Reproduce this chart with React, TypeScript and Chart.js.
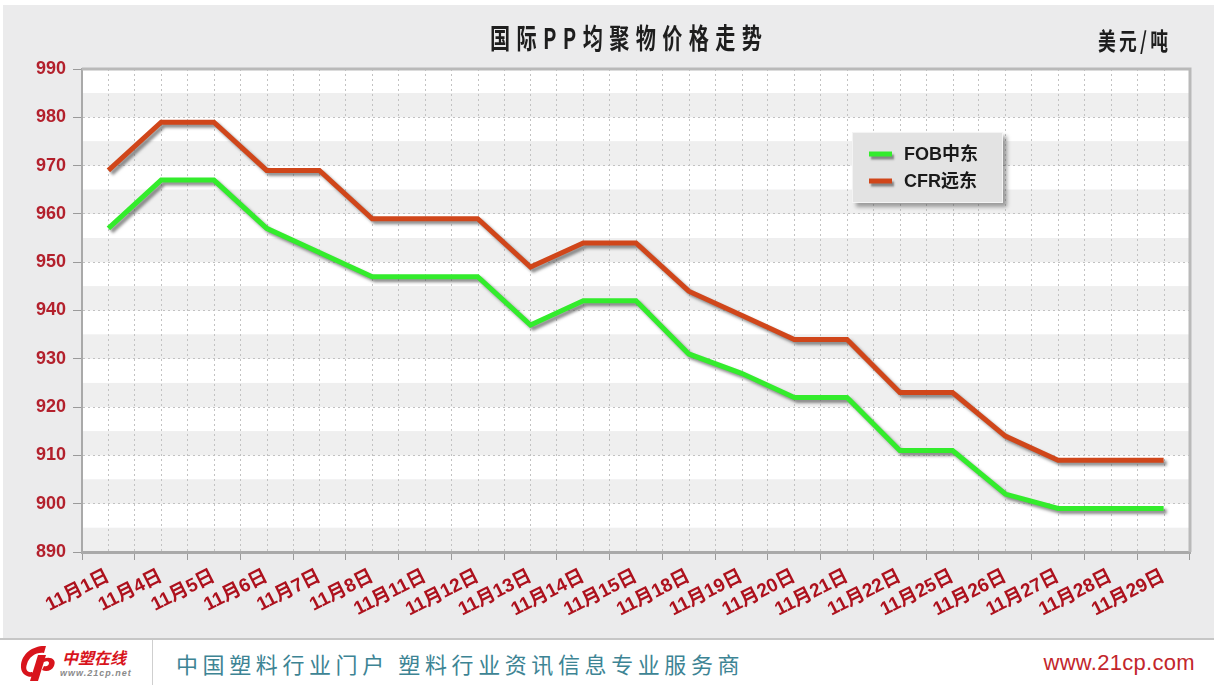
import React, { useEffect, useRef } from "react";
import { Chart, registerables } from "chart.js";

Chart.register(...registerables);

const categories = ["11月1日", "11月4日", "11月5日", "11月6日", "11月7日", "11月8日", "11月11日", "11月12日", "11月13日", "11月14日", "11月15日", "11月18日", "11月19日", "11月20日", "11月21日", "11月22日", "11月25日", "11月26日", "11月27日", "11月28日", "11月29日"];
const fobMiddleEast = [957, 967, 967, 957, 952, 947, 947, 947, 937, 942, 942, 931, 927, 922, 922, 911, 911, 902, 899, 899, 899];
const cfrFarEast = [969, 979, 979, 969, 969, 959, 959, 959, 949, 954, 954, 944, 939, 934, 934, 923, 923, 914, 909, 909, 909];
const seriesNames = ["FOB中东", "CFR远东"];
const seriesColors = ["#33ec2c", "#d0461a"];
const yMin = 890;
const yMax = 990;
const yStep = 5;
const titleText = "国际PP均聚物价格走势";
const unitText = "美元/吨";
const footerSlogan = "中国塑料行业门户 塑料行业资讯信息专业服务商";
const footerSite = "www.21cp.com";

const LATIN = '"Liberation Sans", Arial, "Noto Sans CJK SC", sans-serif';
const CJK = '"Noto Sans CJK SC", "Liberation Sans", sans-serif';

function drawSpaced(ctx: CanvasRenderingContext2D, text: string, left: number, width: number, yMid: number, font: string, scaleX: number, color: string) {
  ctx.save();
  ctx.font = font;
  ctx.fillStyle = color;
  ctx.textBaseline = "middle";
  ctx.textAlign = "left";
  const chars = Array.from(text);
  const ws = chars.map((c) => ctx.measureText(c).width * scaleX);
  const total = ws.reduce((s, w) => s + w, 0);
  const gap = chars.length > 1 ? (width - total) / (chars.length - 1) : 0;
  let x = left;
  chars.forEach((c, i) => {
    ctx.save();
    ctx.translate(x, yMid);
    ctx.scale(scaleX, 1);
    ctx.fillText(c, 0, 0);
    ctx.restore();
    x += ws[i] + gap;
  });
  ctx.restore();
}

const decorPlugin = {
  id: "decor",
  beforeDraw(chart: any) {
    const { ctx, chartArea: a, scales } = chart;
    ctx.save();
    ctx.fillStyle = "#ffffff";
    ctx.fillRect(0, 0, chart.width, chart.height);
    ctx.fillStyle = "#ebebec";
    ctx.fillRect(3, 5, chart.width - 3, chart.height - 5);
    const y = scales.y;
    let idx = 0;
    for (let v = yMax; v > yMin; v -= yStep, idx++) {
      const top = y.getPixelForValue(v);
      const bot = y.getPixelForValue(v - yStep);
      ctx.fillStyle = idx % 2 === 0 ? "#ffffff" : "#efefef";
      ctx.fillRect(a.left, top, a.right - a.left, bot - top);
    }
    const x = scales.x;
    ctx.strokeStyle = "#c2c2c2";
    ctx.lineWidth = 1;
    ctx.setLineDash([2, 3]);
    categories.forEach((_, i) => {
      const px = Math.round(x.getPixelForValue(i)) + 0.5;
      ctx.beginPath();
      ctx.moveTo(px, a.top);
      ctx.lineTo(px, a.bottom);
      ctx.stroke();
    });
    ctx.restore();
  },
  beforeDatasetsDraw(chart: any) {
    const { ctx, chartArea: a } = chart;
    ctx.save();
    ctx.strokeStyle = "#b9b9b9";
    ctx.lineWidth = 3;
    ctx.beginPath();
    ctx.moveTo(a.left, a.top);
    ctx.lineTo(a.right, a.top);
    ctx.lineTo(a.right, a.bottom);
    ctx.stroke();
    ctx.restore();
  },
  beforeDatasetDraw(chart: any) {
    const c = chart.ctx;
    c.save();
    c.shadowColor = "rgba(70,70,70,0.6)";
    c.shadowOffsetX = 3;
    c.shadowOffsetY = 3;
    c.shadowBlur = 3;
  },
  afterDatasetDraw(chart: any) {
    chart.ctx.restore();
  },
  afterDraw(chart: any) {
    const ctx = chart.ctx;
    drawSpaced(ctx, titleText, 490, 272, 38, `bold 28px ${CJK}`, 0.72, "#1e1e1e");
    drawSpaced(ctx, unitText, 1098, 70, 41, `bold 24px ${CJK}`, 0.74, "#1e1e1e");

    // legend
    const bx = 852, by = 132, bw = 151, bh = 71;
    ctx.save();
    ctx.shadowColor = "rgba(0,0,0,0.35)";
    ctx.shadowOffsetX = 4;
    ctx.shadowOffsetY = 4;
    ctx.shadowBlur = 4;
    ctx.fillStyle = "#e3e3e3";
    ctx.fillRect(bx, by, bw, bh);
    ctx.restore();
    ctx.save();
    ctx.strokeStyle = "#f4f4f4";
    ctx.lineWidth = 1;
    ctx.strokeRect(bx + 0.5, by + 0.5, bw - 1, bh - 1);
    chart.data.datasets.forEach((ds: any, i: number) => {
      const yy = by + 22 + i * 27;
      ctx.save();
      ctx.shadowColor = "rgba(70,70,70,0.6)";
      ctx.shadowOffsetX = 2;
      ctx.shadowOffsetY = 3;
      ctx.shadowBlur = 2;
      ctx.strokeStyle = ds.borderColor;
      ctx.lineWidth = 5;
      ctx.beginPath();
      ctx.moveTo(869, yy);
      ctx.lineTo(892, yy);
      ctx.stroke();
      ctx.restore();
      ctx.font = `bold 18px ${LATIN}`;
      ctx.fillStyle = "#1a1a1a";
      ctx.textBaseline = "middle";
      ctx.textAlign = "left";
      ctx.fillText(ds.label, 904, yy + 1);
    });
    ctx.restore();
  },
};

function ChartCanvas() {
  const ref = useRef<HTMLCanvasElement | null>(null);
  useEffect(() => {
    if (!ref.current) return;
    const chart = new Chart(ref.current, {
      type: "line",
      data: {
        labels: categories,
        datasets: [
          { label: seriesNames[0], data: fobMiddleEast, borderColor: seriesColors[0], backgroundColor: seriesColors[0], borderWidth: 5, pointRadius: 0, tension: 0, fill: false },
          { label: seriesNames[1], data: cfrFarEast, borderColor: seriesColors[1], backgroundColor: seriesColors[1], borderWidth: 5, pointRadius: 0, tension: 0, fill: false },
        ],
      },
      options: {
        responsive: false,
        animation: false,
        devicePixelRatio: 1,
        layout: { padding: { left: 0, right: 24, top: 69, bottom: 0 } },
        plugins: { legend: { display: false }, title: { display: false }, tooltip: { enabled: false } },
        scales: {
          x: {
            type: "category",
            offset: true,
            grid: { offset: true, color: "#c2c2c2", tickColor: "#9a9a9a", tickLength: 8, lineWidth: 1, drawOnChartArea: true },
            border: { display: true, color: "#a9a9a9", width: 3, dash: [2, 3] },
            ticks: { autoSkip: false, maxRotation: 27, minRotation: 27, padding: 5, color: "#ad111d", font: { family: LATIN, size: 19, weight: "bold" } },
            afterFit: (s: any) => { s.height = 86; },
          },
          y: {
            min: yMin,
            max: yMax,
            grid: {
              color: "#c2c2c2",
              lineWidth: 1,
              tickLength: 9,
              tickColor: (c: any) => (c.tick && c.tick.value % 10 === 0 ? "#9a9a9a" : "rgba(0,0,0,0)"),
            },
            border: { display: true, color: "#a9a9a9", width: 2, dash: [2, 3] },
            ticks: {
              stepSize: yStep,
              padding: 7,
              color: "#b3202c",
              font: { family: LATIN, size: 18, weight: "bold" },
              callback: (v: any) => (Number(v) % 10 === 0 ? String(v) : ""),
            },
            afterFit: (s: any) => { s.width = 82; },
          },
        },
      },
      plugins: [decorPlugin],
    } as any);
    return () => chart.destroy();
  }, []);
  return <canvas ref={ref} width={1214} height={638} style={{ display: "block", width: 1214, height: 638 }} />;
}

function Logo() {
  return (
    <div style={{ position: "absolute", left: 16, top: 643, width: 134, height: 40 }}>
      <svg width="46" height="40" viewBox="0 0 46 40" style={{ position: "absolute", left: 0, top: 0 }}>
        <path d="M30 3 C18 2 6 10 5 22 C4 31 12 36 20 33 L16 29 C11 30 9 26 11 21 C13 14 20 9 28 10 Z" fill="#d8141c" />
        <path d="M22 12 L30 12 L22 38 L14 38 Z" fill="#d8141c" />
        <path d="M27 16 C34 13 41 16 38 23 C36 28 30 29 26 27 L28 23 C31 24 33 22 33 20 C33 18 30 18 28 19 Z" fill="#d8141c" />
      </svg>
      <div style={{ position: "absolute", left: 46, top: 2, fontFamily: CJK, fontWeight: 700, fontStyle: "italic", fontSize: 16, color: "#d8141c", letterSpacing: 0, whiteSpace: "nowrap" }}>中塑在线</div>
      <div style={{ position: "absolute", left: 44, top: 25, fontFamily: LATIN, fontStyle: "italic", fontWeight: 700, fontSize: 9, color: "#8a8a8a", whiteSpace: "nowrap", letterSpacing: 1 }}>www.21cp.net</div>
    </div>
  );
}

export default function App() {
  return (
    <div style={{ position: "absolute", left: 0, top: 0, width: 1214, height: 685, background: "#ffffff", overflow: "hidden" }}>
      <ChartCanvas />
      <div style={{ position: "absolute", left: 0, top: 638, width: 1214, height: 2, background: "#c6c6c6" }} />
      <div style={{ position: "absolute", left: 152, top: 640, width: 1, height: 45, background: "#cfcfcf" }} />
      <Logo />
      <div style={{ position: "absolute", left: 176, top: 648, height: 30, lineHeight: "30px", fontFamily: CJK, fontSize: 22, color: "#3d8494", letterSpacing: 4.6, whiteSpace: "pre" }}>{footerSlogan}</div>
      <div style={{ position: "absolute", right: 19, top: 648, height: 30, lineHeight: "30px", fontFamily: LATIN, fontSize: 22, color: "#c3262c", whiteSpace: "nowrap", letterSpacing: 0.3 }}>{footerSite}</div>
    </div>
  );
}
